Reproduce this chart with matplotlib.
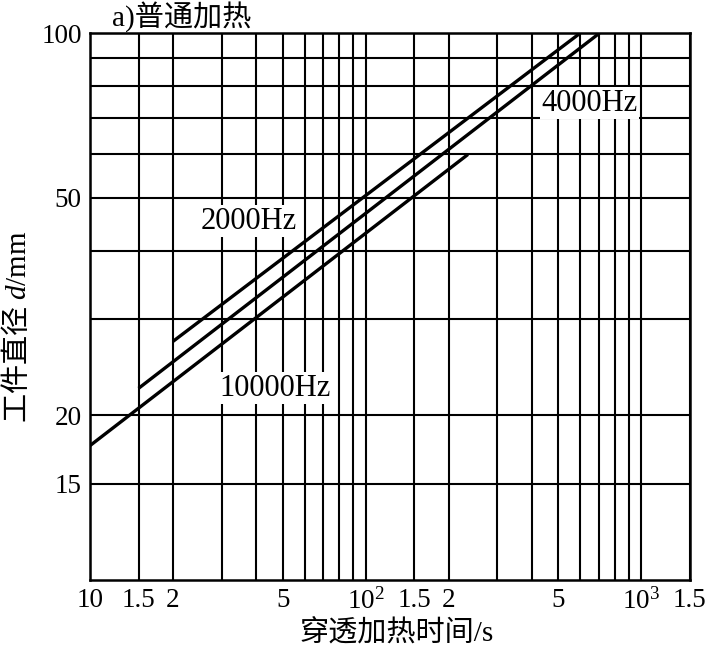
import matplotlib
matplotlib.use('Agg')
import matplotlib.pyplot as plt
import numpy as np

plt.rcParams['font.family'] = ['Liberation Serif', 'Noto Sans CJK SC', 'DejaVu Sans']
plt.rcParams['mathtext.fontset'] = 'custom'
plt.rcParams['mathtext.rm'] = 'Liberation Serif'
plt.rcParams['mathtext.it'] = 'Liberation Serif:italic'
plt.rcParams['mathtext.default'] = 'regular'

# curves: (time s, diameter mm) end points
t_2000 = [20, 600]
d_2000 = [27.3, 100]
t_4000 = [15, 705]
d_4000 = [22.4, 100]
t_10000 = [10, 235]
d_10000 = [17.6, 60]

# grid and tick labels
x_grid = [15, 20, 30, 40, 50, 60, 70, 80, 90, 100, 150, 200, 300, 400,
          500, 600, 700, 800, 900, 1000, 1500]
x_labels = {10: '10', 15: '1.5', 20: '2', 50: '5', 100: '$10^2$', 150: '1.5',
            200: '2', 500: '5', 1000: '$10^3$', 1500: '1.5'}
y_grid = [15, 20, 30, 40, 50, 60, 70, 80, 90, 100]
y_labels = {15: '15', 20: '20', 50: '50', 100: '100'}

fig = plt.figure(figsize=(7.09, 6.5), dpi=100)
ax = fig.add_axes([0.127, 0.108, 0.846, 0.841])
ax.set_xscale('log')
ax.set_yscale('log')
ax.set_xlim(10, 1500)
ax.set_ylim(10, 100)

xt = [10] + x_grid
ax.set_xticks(xt)
ax.set_xticklabels([x_labels.get(v, '') for v in xt])
ax.set_yticks(y_grid)
ax.set_yticklabels([y_labels.get(v, '') for v in y_grid])
ax.minorticks_off()
ax.tick_params(axis='both', length=0, labelsize=19.5)
ax.tick_params(axis='x', pad=6)
ax.tick_params(axis='y', pad=6)
ax.grid(True, which='major', color='black', linewidth=1.5)
for s in ax.spines.values():
    s.set_linewidth(1.8)
    s.set_color('black')

for t, d in [(t_2000, d_2000), (t_4000, d_4000), (t_10000, d_10000)]:
    ax.plot(t, d, color='black', linewidth=2.4, solid_capstyle='butt', zorder=3)

box = dict(facecolor='white', edgecolor='none', pad=1)
ax.text(37.8, 45.3, '2000Hz', fontsize=22, ha='center', va='center', bbox=box, zorder=4)
ax.text(46.8, 22.4, '10000Hz', fontsize=22, ha='center', va='center', bbox=box, zorder=4)
ax.text(650, 74.4, '4000Hz', fontsize=22, ha='center', va='center', bbox=box, zorder=4)

fig.text(0.158, 0.974, 'a)普通加热', fontsize=21, ha='left', va='center')
fig.text(0.56, 0.026, '穿透加热时间/s', fontsize=21, ha='center', va='center')
fig.text(0.024, 0.497, r'工件直径 $\mathit{d}\mathrm{/mm}$', fontsize=21, rotation=90,
         ha='center', va='center', family=['Noto Sans CJK SC'])

fig.savefig('out.png', dpi=100)
